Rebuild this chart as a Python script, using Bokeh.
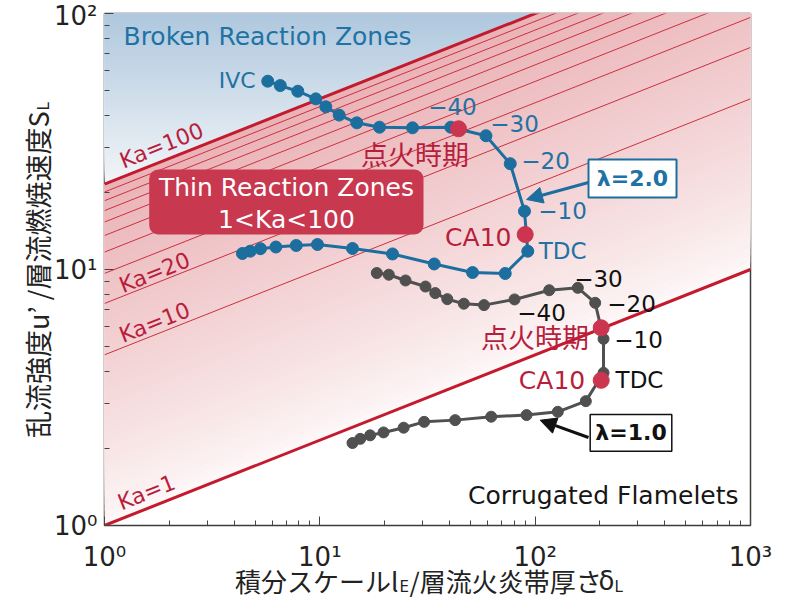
import math
from bokeh.plotting import figure
from bokeh.models import (Range1d, FixedTicker, CustomJSTickFormatter, Label,
                          BoxAnnotation, Arrow, NormalHead)
from bokeh.core.properties import value
from bokeh.embed import file_html
from bokeh.resources import INLINE

# ---------------- data ----------------
ka_bounds = [1, 100]
ka_inner = [10, 20, 30, 40, 50, 60, 70, 80, 90]

# lambda = 2.0 (IVC -> ... -> EVO)
lam2_x = [5.73, 6.55, 7.90, 9.58, 10.66, 12.30, 14.85, 18.93, 26.94, 40.56, 59.1, 76.6,
          89.2, 92.4, 72.6, 51.2, 33.98, 21.75, 14.18, 9.75, 7.77, 6.25, 5.30, 4.75, 4.37]
lam2_y = [54.4, 52.3, 49.7, 46.4, 43.2, 40.1, 37.4, 35.96, 35.77, 35.96, 33.3, 25.9,
          16.9, 11.79, 9.65, 9.73, 10.51, 11.5, 12.08, 12.52, 12.41, 12.24, 12.06, 11.79, 11.55]
lam2_event_x = [44.06, 89.9]   # ignition timing, CA10
lam2_event_y = [35.45, 13.70]

# lambda = 1.0
lam1_x = [18.39, 20.91, 25.0, 30.95, 34.35, 39.08, 46.64, 57.86, 80.2, 116.2, 157.8, 190.0,
          207.7, 207.7, 171.9, 127.4, 91.2, 62.5, 42.5, 30.5, 24.5, 19.76, 17.13, 15.40, 14.18]
lam1_y = [9.69, 9.54, 9.06, 8.58, 8.09, 7.66, 7.35, 7.26, 7.64, 8.30, 8.48, 7.41,
          5.36, 3.95, 3.06, 2.78, 2.70, 2.66, 2.58, 2.54, 2.41, 2.31, 2.25, 2.18, 2.10]
lam1_event_x = [202.6, 202.6]
lam1_event_y = [5.92, 3.69]

x_ticks = [1, 10, 100, 1000]
y_ticks = [1, 10, 100]

# ---------------- style ----------------
BLUE = "#1c6e9e"
BLUE_TXT = "#1f72a4"
GRAY = "#505050"
RED_DOT = "#cc3550"
RED_TXT = "#b81e3c"
RED_LINE = "#c41a2e"
RED_THIN = "#cc3040"
BOX_RED = "#c8384f"
LATIN = "DejaVu Sans"
CJK = "Noto Sans CJK JP"
TITLE_C = "#222222"

X0, X1 = x_ticks[0], x_ticks[-1]
Y0, Y1 = y_ticks[0], y_ticks[-1]
FW, FH = 646, 512


def ka_y(ka, x):
    return ka ** (2.0 / 3.0) * x ** (1.0 / 3.0)


def mix(c0, c1, t):
    a = [int(c0[i:i + 2], 16) for i in (1, 3, 5)]
    b = [int(c1[i:i + 2], 16) for i in (1, 3, 5)]
    return "#%02x%02x%02x" % tuple(round(a[k] + (b[k] - a[k]) * t) for k in range(3))


p = figure(width=790, height=598, x_axis_type="log", y_axis_type="log",
           x_range=Range1d(X0, X1), y_range=Range1d(Y0, Y1),
           output_backend="svg", toolbar_location=None,
           min_border_left=104, min_border_right=40, min_border_top=13, min_border_bottom=73)
p.grid.visible = False
p.outline_line_color = "#3c3c3c"
p.outline_line_width = 1.5
p.background_fill_color = "white"
p.border_fill_color = "white"

# ---- blue gradient (broken reaction zones) ----
N = 48
lo = math.log10(ka_y(ka_bounds[1], X0))
hi = math.log10(Y1)
bl, bt, bc = [], [], []
for i in range(N):
    bl.append(10 ** (lo + (hi - lo) * i / N))
    bt.append(Y1)
    bc.append(mix("#f2f5f8", "#aec7dd", i / N))
p.quad(left=X0, right=X1, bottom=bl, top=bt, fill_color=bc, line_color=None)

# ---- pink gradient (thin reaction zones) ----
pxs, pys, pcs = [], [], []
kmax = ka_bounds[1]
for i in range(N):
    lk = math.log10(kmax) * i / N
    k = 10 ** lk
    pxs.append([X0, X1, X1, X0])
    pys.append([ka_y(k, X0), ka_y(k, X1), ka_y(kmax, X1), ka_y(kmax, X0)])
    pcs.append(mix("#fdf7f7", "#eab2b6", (i / N) ** 0.85))
p.patches(pxs, pys, fill_color=pcs, line_color=None)

# ---- Ka lines ----
p.multi_line([[X0, X1] for _ in ka_inner], [[ka_y(k, X0), ka_y(k, X1)] for k in ka_inner],
             line_color=RED_THIN, line_width=1)
p.multi_line([[X0, X1] for _ in ka_bounds], [[ka_y(k, X0), ka_y(k, X1)] for k in ka_bounds],
             line_color=RED_LINE, line_width=3)

# ---- series ----
p.line(lam1_x, lam1_y, line_color=GRAY, line_width=3)
p.scatter(lam1_x, lam1_y, size=11, fill_color=GRAY, line_color=GRAY)
p.line(lam2_x, lam2_y, line_color=BLUE, line_width=3)
p.scatter(lam2_x, lam2_y, size=12, fill_color=BLUE, line_color=BLUE)
p.scatter(lam2_event_x, lam2_event_y, size=16, fill_color=RED_DOT, line_color=RED_DOT)
p.scatter(lam1_event_x, lam1_event_y, size=16, fill_color=RED_DOT, line_color=RED_DOT)

# ---- axes ----
sup = CustomJSTickFormatter(code="""
const e = Math.round(Math.log10(tick));
const s = ['\u2070', '\u00b9', '\u00b2', '\u00b3', '\u2074'];
return '10' + s[e];
""")
p.xaxis.ticker = FixedTicker(ticks=x_ticks,
                             minor_ticks=[m * t for t in x_ticks[:-1] for m in range(2, 10)])
p.yaxis.ticker = FixedTicker(ticks=y_ticks,
                             minor_ticks=[m * t for t in y_ticks[:-1] for m in range(2, 10)])
for ax in (p.xaxis, p.yaxis):
    ax.formatter = sup
    ax.axis_line_color = None
    ax.major_tick_in = 9
    ax.major_tick_out = 0
    ax.minor_tick_in = 5
    ax.minor_tick_out = 0
    ax.major_tick_line_color = "#444444"
    ax.minor_tick_line_color = "#444444"
    ax.major_label_text_font = LATIN
    ax.major_label_text_font_size = "26px"
    ax.major_label_text_color = "#222222"
p.xaxis.major_label_standoff = 16
p.yaxis.major_label_standoff = 7


def lab(text, x, y, color, size, align="center", font=LATIN, baseline="middle",
        angle=0.0, style="normal"):
    p.add_layout(Label(x=x, y=y, text=text, text_color=color, text_font_size=size,
                       text_align=align, text_baseline=baseline, text_font=font,
                       angle=angle, text_font_style=style))


def title_piece(text, dx, dy, size, font, align, angle=0.0):
    # anchored at the lower-left corner of the frame, offset in pixels
    p.text(x=[X0], y=[Y0], text=[text], x_offset=dx, y_offset=dy, angle=angle,
           text_font=value(font), text_font_size=size, text_align=align,
           text_baseline="middle", text_color=TITLE_C, level="overlay")


# axis titles
title_piece("積分スケールl", 294, 55, "26px", CJK, "right")
title_piece("E", 295, 61, "15px", LATIN, "left")
title_piece("/層流火炎帯厚さ", 305, 55, "26px", CJK, "left")
title_piece("δ", 494, 55, "26px", LATIN, "left")
title_piece("L", 510, 61, "15px", LATIN, "left")

title_piece("乱流強度u’ /層流燃焼速度S", -67, -414, "27px", CJK, "right", math.pi / 2)
title_piece("L", -61, -415, "15px", LATIN, "left", math.pi / 2)

# regime texts
lab("Broken Reaction Zones", 1.225, 81.3, BLUE_TXT, "25px", align="left")
lab("Corrugated Flamelets", 880, 1.31, "#161616", "25px", align="right")

ka_angle = math.atan((FH / 2 / 3) / (FW / 3))
lab("Ka=100", 1.84, 30.5, RED_TXT, "22px", angle=ka_angle)
lab("Ka=20", 1.707, 9.73, RED_TXT, "22px", angle=ka_angle)
lab("Ka=10", 1.707, 6.21, RED_TXT, "22px", angle=ka_angle)
lab("Ka=1", 1.567, 1.346, RED_TXT, "22px", angle=ka_angle)

# thin reaction zones box
p.add_layout(BoxAnnotation(left=1.613, right=30.3, bottom=13.70, top=24.58,
                           fill_color=BOX_RED, fill_alpha=1, line_color=None,
                           border_radius=9))
lab("Thin Reaction Zones", 7.0, 20.9, "white", "25px")
lab("1<Ka<100", 7.0, 15.68, "white", "25px")

# lambda = 2.0 annotations
lab("IVC", 5.03, 54.7, BLUE_TXT, "22px", align="right")
lab("\u221240", 41.3, 43.5, BLUE_TXT, "23px")
lab("\u221230", 80.2, 37.2, BLUE_TXT, "23px")
lab("\u221220", 111.7, 26.7, BLUE_TXT, "23px")
lab("\u221210", 134, 17.0, BLUE_TXT, "23px")
lab("TDC", 134, 11.76, BLUE_TXT, "23px")
lab("点火時期", 27.7, 28.4, RED_TXT, "27px", font=CJK)
lab("CA10", 77.6, 13.39, RED_TXT, "25px", align="right")

p.add_layout(Arrow(end=NormalHead(size=16, fill_color=BLUE, line_color=BLUE),
                   x_start=176.9, y_start=21.87, x_end=91.2, y_end=18.77,
                   line_color=BLUE, line_width=3))
p.add_layout(BoxAnnotation(left=176.9, right=453.3, bottom=19.1, top=26.9,
                           fill_color="white", fill_alpha=1, line_color=BLUE,
                           line_alpha=1, line_width=2))
lab("λ=2.0", 283.2, 22.68, BLUE_TXT, "22px", style="bold")

# lambda = 1.0 annotations
lab("\u221240", 107.0, 6.82, "#111111", "23px")
lab("\u221230", 196.8, 9.22, "#111111", "23px")
lab("\u221220", 280.2, 7.36, "#111111", "23px")
lab("\u221210", 302, 5.33, "#111111", "23px")
lab("TDC", 305.2, 3.685, "#111111", "23px")
lab("点火時期", 99.8, 5.45, RED_TXT, "27px", font=CJK)
lab("CA10", 170.8, 3.70, RED_TXT, "25px", align="right")

p.add_layout(Arrow(end=NormalHead(size=16, fill_color="#111111", line_color="#111111"),
                   x_start=176.9, y_start=2.207, x_end=105.5, y_end=2.578,
                   line_color="#111111", line_width=3))
p.add_layout(BoxAnnotation(left=180.1, right=431.0, bottom=1.951, top=2.714,
                           fill_color="white", fill_alpha=1, line_color="#111111",
                           line_alpha=1, line_width=1.5))
lab("λ=1.0", 278.7, 2.302, "#111111", "22px", style="bold")

open("out.html", "w").write(file_html(p, INLINE))
